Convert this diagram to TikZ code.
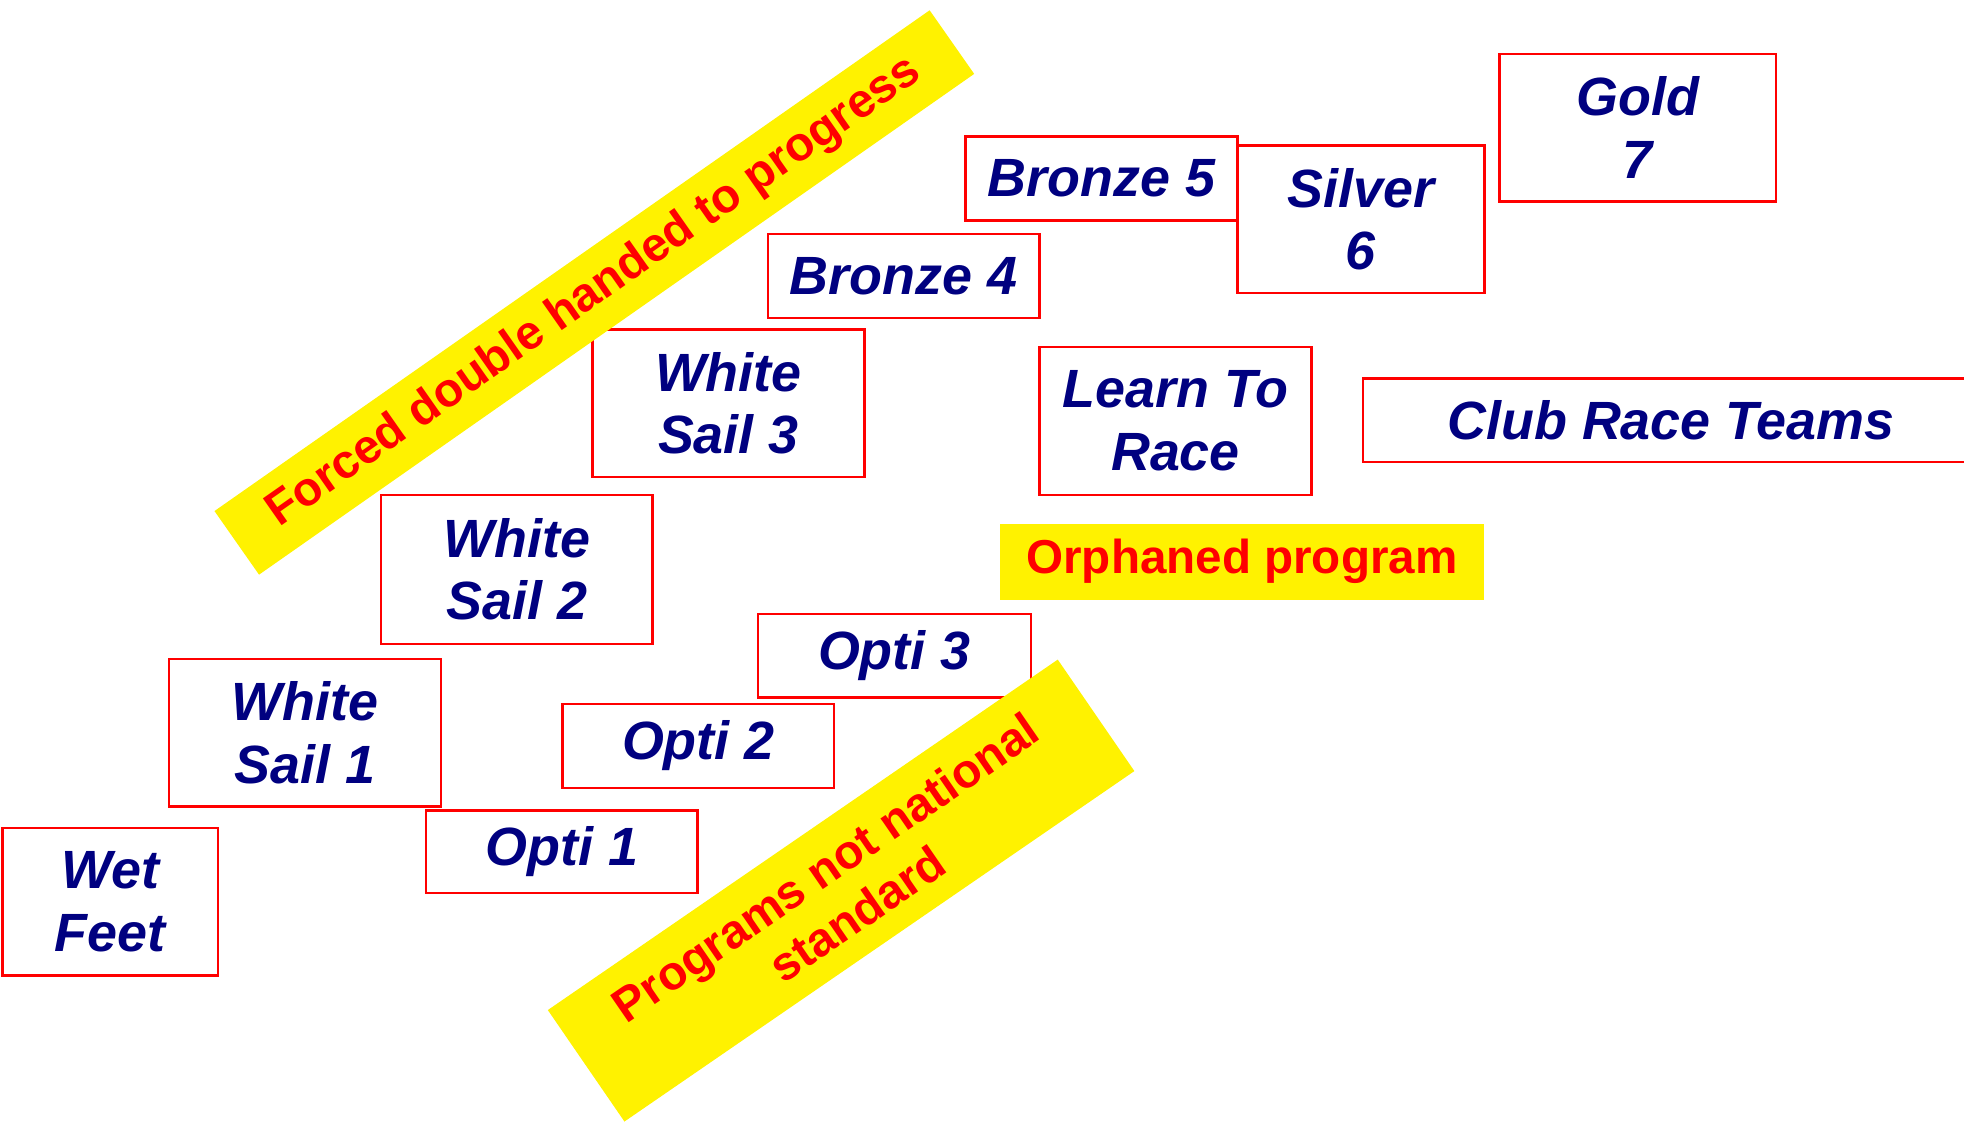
\documentclass[tikz,border=0pt]{standalone}
\usepackage{fontspec}
\setmainfont{Liberation Sans}
\usepackage{tikz}
\usetikzlibrary{shapes.geometric}
\definecolor{navy}{RGB}{0,0,128}
\tikzstyle{stage} = [draw=red, line width=2pt, text=navy, inner sep=0pt, align=center,
  font=\fontsize{43}{50}\selectfont\bfseries\itshape]
\tikzstyle{banner} = [fill=yellow, text=red, inner sep=0pt, align=center,
  font=\fontsize{38}{45}\selectfont\bfseries]

\begin{document}
\begin{tikzpicture}[x=1pt,y=-1pt]
\useasboundingbox (0,0) rectangle (1568,896);

\foreach \name/\x/\y/\w/\h/\label in
{gold/1307.5/102/221/118/{Gold\\7},
bronzefive/879.5/142.5/217/67/{Bronze 5},
silver/1086.5/175/197/118/{Silver\\6},
bronzefour/721.5/220.5/217/67/{Bronze 4},
whitethree/581.5/322/217/118/{White\\Sail 3},
learn/938.5/336/217/118/{Learn To\\Race},
club/1334/335.5/492/67/{Club Race Teams},
whitetwo/412.5/454.5/217/119/{White\\Sail 2},
optithree/714/523.5/218/67/{Opti 3},
whiteone/243.5/585/217/118/{White\\Sail 1},
optitwo/557.5/595.5/217/67/{Opti 2},
optione/448.5/680/217/66/{Opti 1},
wet/88/720/172/118/{Wet\\Feet}}
{
\node[stage, minimum width=\w pt, minimum height=\h pt] (\name) at (\x,\y) {\label};
}

\node[banner, minimum width=387pt, minimum height=61pt] (orphan) at (991.5,448.5) {Orphaned program};
\node[banner, minimum width=697pt, minimum height=62pt, rotate=35] (forced) at (474.5,233.5) {Forced double handed to progress};
\node[banner, minimum width=494pt, minimum height=108pt, rotate=34.5] (notnational) at (671.5,711) {Programs not national\\standard};
\end{tikzpicture}
\end{document}
